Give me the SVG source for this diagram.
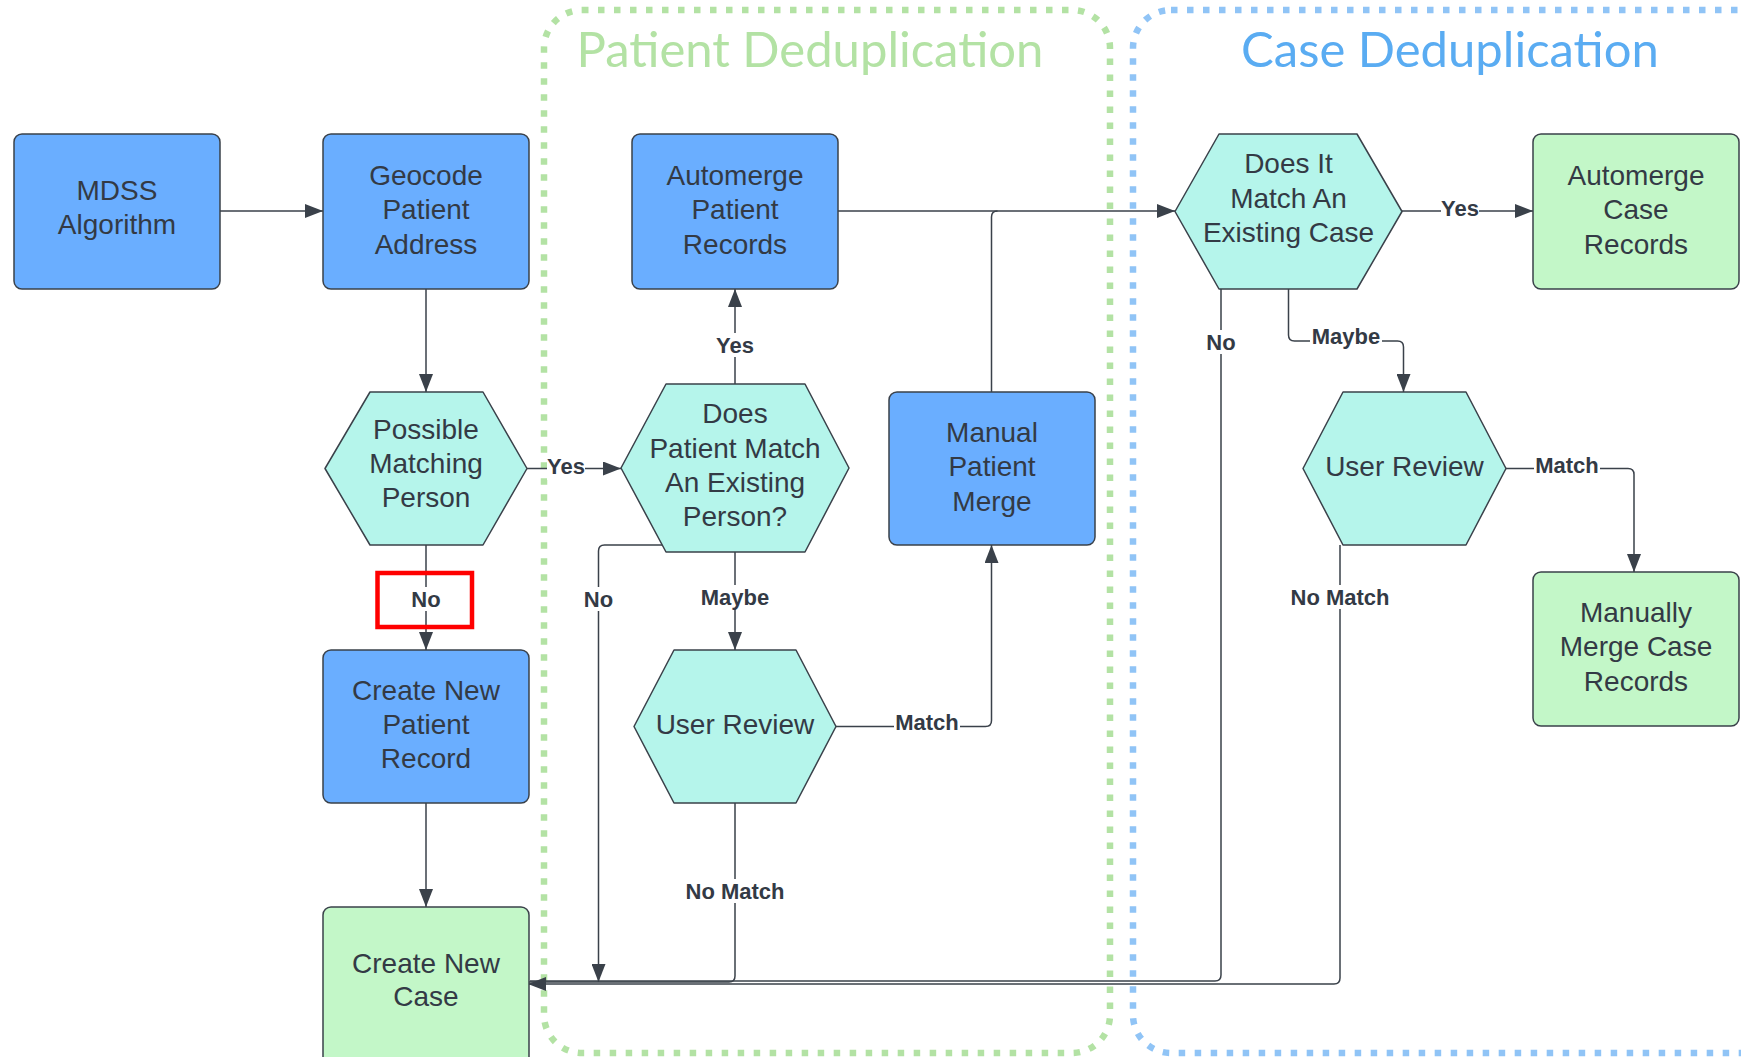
<svg xmlns="http://www.w3.org/2000/svg" width="1741" height="1057" viewBox="0 0 1741 1057">
<defs>
<marker id="arr" viewBox="0 0 18 14" refX="18" refY="7" markerWidth="18" markerHeight="14" markerUnits="userSpaceOnUse" orient="auto">
<path d="M0,0 L18,7 L0,14 z" fill="#3a414a"/>
</marker>
<style>
.box{stroke:#3a414a;stroke-width:1.5}
.blue{fill:#6aaeff}
.teal{fill:#b5f5eb}
.green{fill:#c3f7c8}
.t{font-family:"Liberation Sans",Arial,sans-serif;font-size:28px;fill:#333a45;text-anchor:middle}
.lbl{font-family:"Liberation Sans",Arial,sans-serif;font-size:22px;font-weight:bold;fill:#333a45;text-anchor:middle}
.ln{fill:none;stroke:#3a414a;stroke-width:1.5}
.lb{fill:#ffffff}
.title{font-family:Lato,"Open Sans",sans-serif;font-size:49px;text-anchor:middle}
.cont{fill:none;stroke-width:6.5;stroke-dasharray:6.5 9.5}
</style>
</defs>
<rect width="1741" height="1057" fill="#ffffff"/>

<g id="containers">
<rect class="cont" x="544" y="10" width="566" height="1043" rx="38" stroke="#b3e2a4"/>
<text class="title" x="810" y="67" fill="#b3e2a4">Patient Deduplication</text>
<rect class="cont" x="1133" y="10" width="660" height="1043" rx="38" stroke="#90c4f6"/>
<text class="title" x="1450" y="67" fill="#5aacf2">Case Deduplication</text>
</g>

<g id="connectors">
<path class="ln" d="M220,211 H323" marker-end="url(#arr)"/>
<path class="ln" d="M426,289 V392" marker-end="url(#arr)"/>
<path class="ln" d="M527,468.5 H621" marker-end="url(#arr)"/>
<path class="ln" d="M426,545 V650" marker-end="url(#arr)"/>
<path class="ln" d="M735,384 V289" marker-end="url(#arr)"/>
<path class="ln" d="M735,552 V650" marker-end="url(#arr)"/>
<path class="ln" d="M663,545 H604.5 Q598.5,545 598.5,551 V982" marker-end="url(#arr)"/>
<path class="ln" d="M836,726.5 H985.5 Q991.5,726.5 991.5,720.5 V545" marker-end="url(#arr)"/>
<path class="ln" d="M735,803 V976 Q735,982 729,982 H528"/>
<path class="ln" d="M837,211 H1175" marker-end="url(#arr)"/>
<path class="ln" d="M991.5,392 V217 Q991.5,211 997.5,211"/>
<path class="ln" d="M1402,211 H1533" marker-end="url(#arr)"/>
<path class="ln" d="M1221,289 V975 Q1221,981 1215,981 H530"/>
<path class="ln" d="M1288.5,289 V335 Q1288.5,341 1294.5,341 H1397.5 Q1403.5,341 1403.5,347 V392" marker-end="url(#arr)"/>
<path class="ln" d="M1506,468.5 H1628 Q1634,468.5 1634,474.5 V572" marker-end="url(#arr)"/>
<path class="ln" d="M1340,545 V978 Q1340,984 1334,984 H528" marker-end="url(#arr)"/>
<path class="ln" d="M426,803 V907" marker-end="url(#arr)"/>
<g id="labels">
<rect class="lb" x="547" y="456" width="38" height="24"/><text class="lbl" x="566" y="474">Yes</text>
<rect class="lb" x="411" y="587" width="30" height="24"/><text class="lbl" x="426" y="607">No</text>
<rect class="lb" x="716" y="333" width="38" height="24"/><text class="lbl" x="735" y="353">Yes</text>
<rect class="lb" x="699" y="585" width="72" height="24"/><text class="lbl" x="735" y="605">Maybe</text>
<rect class="lb" x="583" y="587" width="30" height="24"/><text class="lbl" x="598.5" y="607">No</text>
<rect class="lb" x="894" y="711" width="66" height="24"/><text class="lbl" x="927" y="730">Match</text>
<rect class="lb" x="684" y="879" width="102" height="24"/><text class="lbl" x="735" y="899">No Match</text>
<rect class="lb" x="1441" y="197" width="38" height="24"/><text class="lbl" x="1460" y="216">Yes</text>
<rect class="lb" x="1206" y="330" width="30" height="24"/><text class="lbl" x="1221" y="350">No</text>
<rect class="lb" x="1310" y="324" width="72" height="24"/><text class="lbl" x="1346" y="344">Maybe</text>
<rect class="lb" x="1534" y="453" width="66" height="24"/><text class="lbl" x="1567" y="473">Match</text>
<rect class="lb" x="1289" y="585" width="102" height="24"/><text class="lbl" x="1340" y="605">No Match</text>
</g>
</g>

<g id="mdss">
<rect class="box blue" x="14" y="134" width="206" height="155" rx="8"/>
<text class="t" x="117" y="200">MDSS</text>
<text class="t" x="117" y="234">Algorithm</text>
</g>
<g id="geocode">
<rect class="box blue" x="323" y="134" width="206" height="155" rx="8"/>
<text class="t" x="426" y="184.5">Geocode</text>
<text class="t" x="426" y="219">Patient</text>
<text class="t" x="426" y="253.5">Address</text>
</g>
<g id="automerge-patient">
<rect class="box blue" x="632" y="134" width="206" height="155" rx="8"/>
<text class="t" x="735" y="184.5">Automerge</text>
<text class="t" x="735" y="219">Patient</text>
<text class="t" x="735" y="253.5">Records</text>
</g>
<g id="does-it-match">
<polygon class="box teal" points="1175,211.5 1219,134 1357,134 1402,211.5 1357,289 1219,289" stroke-linejoin="round"/>
<text class="t" x="1288.5" y="173">Does It</text>
<text class="t" x="1288.5" y="208">Match An</text>
<text class="t" x="1288.5" y="242">Existing Case</text>
</g>
<g id="automerge-case">
<rect class="box green" x="1533" y="134" width="206" height="155" rx="8"/>
<text class="t" x="1636" y="184.5">Automerge</text>
<text class="t" x="1636" y="219">Case</text>
<text class="t" x="1636" y="253.5">Records</text>
</g>
<g id="possible-match">
<polygon class="box teal" points="325,468.5 370,392 483,392 527,468.5 483,545 370,545" stroke-linejoin="round"/>
<text class="t" x="426" y="438.6">Possible</text>
<text class="t" x="426" y="473">Matching</text>
<text class="t" x="426" y="507.4">Person</text>
</g>
<g id="does-patient-match">
<polygon class="box teal" points="621,468 666,384 805,384 849,468 805,552 666,552" stroke-linejoin="round"/>
<text class="t" x="735" y="423">Does</text>
<text class="t" x="735" y="457.5">Patient Match</text>
<text class="t" x="735" y="492">An Existing</text>
<text class="t" x="735" y="526.3">Person?</text>
</g>
<g id="manual-patient-merge">
<rect class="box blue" x="889" y="392" width="206" height="153" rx="8"/>
<text class="t" x="992" y="442">Manual</text>
<text class="t" x="992" y="476">Patient</text>
<text class="t" x="992" y="511">Merge</text>
</g>
<g id="user-review-case">
<polygon class="box teal" points="1303,468.5 1343,392 1466,392 1506,468.5 1466,545 1343,545" stroke-linejoin="round"/>
<text class="t" x="1404.5" y="476">User Review</text>
</g>
<g id="create-patient">
<rect class="box blue" x="323" y="650" width="206" height="153" rx="8"/>
<text class="t" x="426" y="699.5">Create New</text>
<text class="t" x="426" y="734">Patient</text>
<text class="t" x="426" y="768">Record</text>
</g>
<g id="user-review-patient">
<polygon class="box teal" points="634,726.5 674,650 796,650 836,726.5 796,803 674,803" stroke-linejoin="round"/>
<text class="t" x="735" y="734">User Review</text>
</g>
<g id="manually-merge-case">
<rect class="box green" x="1533" y="572" width="206" height="154" rx="8"/>
<text class="t" x="1636" y="622">Manually</text>
<text class="t" x="1636" y="656">Merge Case</text>
<text class="t" x="1636" y="691">Records</text>
</g>
<g id="create-case">
<rect class="box green" x="323" y="907" width="206" height="170" rx="8"/>
<text class="t" x="426" y="973">Create New</text>
<text class="t" x="426" y="1006">Case</text>
</g>
<g id="highlight">
<rect x="377.5" y="573" width="94.5" height="54" fill="none" stroke="#ff0000" stroke-width="4.5"/>
</g>
</svg>
